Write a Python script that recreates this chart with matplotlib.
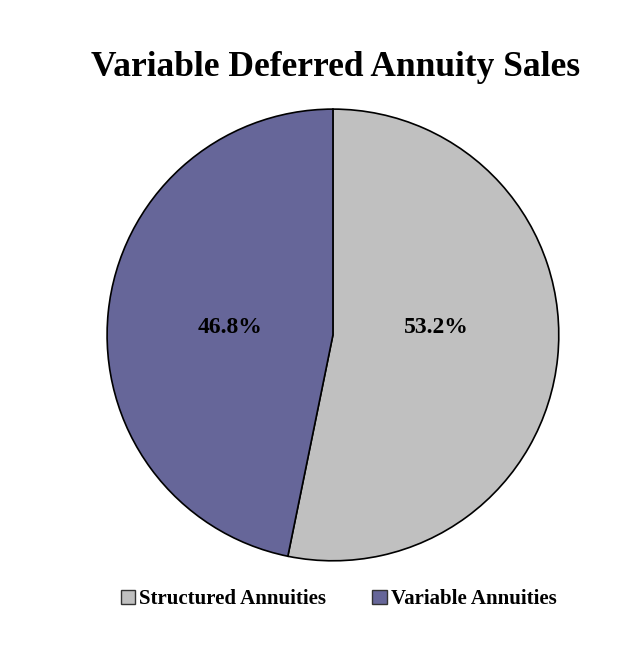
import matplotlib
matplotlib.use("Agg")
import matplotlib.pyplot as plt
from matplotlib.patches import Patch

# Data
labels = ["Structured Annuities", "Variable Annuities"]
shares = [53.2, 46.8]
colors = ["#C0C0C0", "#666699"]

plt.rcParams['font.family'] = ['Liberation Serif', 'DejaVu Serif']

fig = plt.figure(figsize=(6.27, 6.46), dpi=100)
ax = fig.add_axes([0.169, 0.130, 0.724, 0.703])

wedges, texts, autotexts = ax.pie(
    shares, colors=colors, startangle=90, counterclock=False,
    autopct='%1.1f%%', pctdistance=0.46,
    wedgeprops=dict(edgecolor='black', linewidth=1.2),
    textprops=dict(fontsize=17, fontweight='bold', color='black'),
)
ax.set_xlim(-1.005, 1.005)
ax.set_ylim(-1.005, 1.005)
ax.set_aspect('equal')

# put both percent labels on one line slightly above centre, like the original
for t in autotexts:
    x, y = t.get_position()
    t.set_position((x, 0.035))

fig.text(0.535, 0.895, "Variable Deferred Annuity Sales", ha='center', va='center',
         fontsize=25.5, fontweight='bold')

handles = [Patch(facecolor=c, edgecolor='#333333', label=l) for c, l in zip(colors, labels)]
fig.legend(handles=handles, loc='center', bbox_to_anchor=(0.54, 0.072), ncol=2,
           frameon=False, handlelength=0.7, handleheight=0.7, handletextpad=0.2,
           columnspacing=2.2, prop=dict(size=15, weight='bold'))

fig.savefig("out.png", dpi=100)
